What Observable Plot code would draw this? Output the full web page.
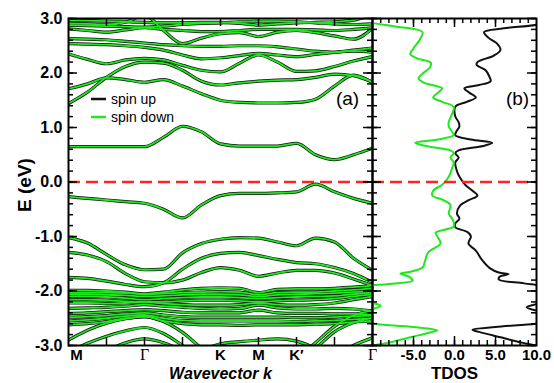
<!DOCTYPE html>
<html>
<head>
<meta charset="utf-8">
<script src="https://cdn.jsdelivr.net/npm/d3@7"></script>
<script src="https://cdn.jsdelivr.net/npm/@observablehq/plot@0.6"></script>
<style>
  html, body { margin: 0; padding: 0; background: #fff; }
  #chart { position: relative; width: 554px; height: 383px; font-family: "Liberation Sans", Arial, sans-serif; }
  #chart > svg { position: absolute; top: 0; }
</style>
</head>
<body>
<div id="chart"></div>
<script>
// ---------------- data ----------------
// k-path positions (in units of segment length) where band energies are sampled
const kGrid = [0, 0.5, 1, 1.5, 2, 2.5, 3, 3.5, 4, 4.5, 5, 5.5, 6, 6.5, 7, 7.5, 8];

// high-symmetry points along the path
const hsLabels = ["M", "Γ", "K", "M", "K′", "Γ"];
const hsPos = [0, 2, 4, 5, 6, 8];

// conduction bands, E (eV) at each kGrid point
const conductionBands = [
  [0.65, 0.65, 0.65, 0.65, 0.65, 0.82, 1.02, 0.92, 0.70, 0.66, 0.66, 0.66, 0.71, 0.50, 0.41, 0.50, 0.62],
  [1.71, 1.80, 1.91, 1.88, 1.83, 1.88, 1.76, 1.62, 1.50, 1.46, 1.45, 1.45, 1.46, 1.52, 1.76, 1.96, 1.83],
  [1.44, 1.65, 1.92, 2.12, 2.20, 2.18, 2.05, 1.85, 1.78, 1.82, 1.85, 1.87, 1.88, 1.92, 1.98, 1.95, 1.83],
  [2.35, 2.25, 2.17, 2.24, 2.27, 2.24, 2.14, 2.05, 2.02, 2.18, 2.33, 2.20, 2.03, 2.04, 2.12, 2.22, 2.30],
  [2.54, 2.53, 2.52, 2.50, 2.47, 2.42, 2.33, 2.26, 2.28, 2.32, 2.36, 2.33, 2.30, 2.34, 2.38, 2.40, 2.38],
  [2.63, 2.62, 2.61, 2.58, 2.55, 2.52, 2.50, 2.49, 2.49, 2.50, 2.50, 2.48, 2.44, 2.40, 2.38, 2.42, 2.46],
  [2.81, 2.78, 2.75, 2.79, 2.83, 2.80, 2.78, 2.76, 2.76, 2.78, 2.80, 2.80, 2.80, 2.79, 2.78, 2.80, 2.83],
  [2.91, 2.90, 2.89, 2.93, 3.06, 2.78, 2.54, 2.64, 2.72, 2.74, 2.67, 2.75, 2.78, 2.74, 2.68, 2.62, 2.82],
  [2.97, 2.96, 2.95, 2.94, 2.93, 2.92, 2.92, 2.93, 2.93, 2.91, 2.88, 2.90, 2.92, 2.93, 2.94, 2.97, 3.06],
  [2.88, 2.87, 2.86, 2.85, 2.84, 2.86, 2.89, 2.91, 2.92, 2.94, 2.95, 2.95, 2.94, 2.92, 2.90, 2.89, 2.90]
];

// valence bands, E (eV) at each kGrid point (null = outside the energy window)
const valenceBands = [
  [-0.27, -0.30, -0.33, -0.36, -0.39, -0.50, -0.66, -0.42, -0.25, -0.21, -0.21, -0.20, -0.18, -0.04, -0.18, -0.30, -0.39],
  [-1.02, -1.12, -1.33, -1.52, -1.61, -1.60, -1.30, -1.13, -1.05, -1.02, -1.03, -1.10, -1.17, -1.03, -1.10, -1.40, -1.62],
  [-1.29, -1.34, -1.46, -1.68, -1.83, -1.85, -1.80, -1.66, -1.57, -1.62, -1.73, -1.67, -1.62, -1.62, -1.67, -1.78, -1.90],
  [-1.75, -1.77, -1.82, -1.88, -1.92, -1.85, -1.60, -1.40, -1.31, -1.29, -1.35, -1.42, -1.48, -1.50, -1.57, -1.68, -1.84],
  [-1.99, -1.99, -2.00, -2.02, -2.05, -2.02, -1.98, -1.95, -1.94, -1.95, -2.03, -1.97, -1.96, -1.96, -1.95, -1.93, -1.90],
  [-2.03, -2.03, -2.03, -2.04, -2.06, -2.05, -2.03, -2.02, -2.01, -2.02, -2.07, -2.03, -2.02, -2.02, -2.00, -1.98, -1.95],
  [-2.06, -2.06, -2.07, -2.08, -2.10, -2.09, -2.07, -2.06, -2.06, -2.07, -2.10, -2.07, -2.06, -2.05, -2.04, -2.02, -2.00],
  [-2.10, -2.10, -2.11, -2.13, -2.16, -2.14, -2.12, -2.11, -2.11, -2.12, -2.14, -2.12, -2.11, -2.10, -2.09, -2.06, -2.03],
  [-2.16, -2.16, -2.17, -2.19, -2.20, -2.20, -2.18, -2.17, -2.17, -2.18, -2.20, -2.18, -2.17, -2.16, -2.14, -2.10, -2.06],
  [-2.22, -2.22, -2.23, -2.22, -2.20, -2.23, -2.25, -2.26, -2.26, -2.25, -2.22, -2.25, -2.26, -2.25, -2.22, -2.16, -2.10],
  [-2.32, -2.31, -2.30, -2.28, -2.25, -2.28, -2.30, -2.32, -2.33, -2.32, -2.26, -2.31, -2.33, -2.33, -2.32, -2.33, -2.37],
  [-2.41, -2.40, -2.38, -2.36, -2.34, -2.36, -2.39, -2.40, -2.40, -2.40, -2.35, -2.40, -2.41, -2.41, -2.42, -2.42, -2.43],
  [-2.48, -2.47, -2.45, -2.42, -2.40, -2.44, -2.47, -2.48, -2.48, -2.48, -2.48, -2.48, -2.49, -2.49, -2.48, -2.46, -2.45],
  [-2.55, -2.53, -2.50, -2.46, -2.44, -2.50, -2.54, -2.55, -2.55, -2.55, -2.55, -2.55, -2.56, -2.55, -2.54, -2.52, -2.50],
  [-2.62, -2.60, -2.56, -2.50, -2.47, -2.55, -2.60, -2.62, -2.62, -2.63, -2.62, -2.62, -2.62, -2.61, -2.60, -2.57, -2.55],
  [-2.90, -2.72, -2.59, -2.51, -2.47, -2.56, -2.76, -3.05, -3.30, null, null, null, null, null, null, null, null],
  [-3.12, -2.96, -2.83, -2.73, -2.67, -2.78, -3.00, -3.25, null, null, null, null, null, null, null, null, null],
  [null, null, -3.10, -2.95, -2.88, -2.95, -3.10, null, null, null, null, null, null, null, null, null, null],
  [null, null, null, null, null, null, -3.30, -3.10, -2.97, -2.93, -2.90, -2.88, -2.92, -3.05, -3.20, null, null],
  [null, null, null, null, null, null, null, null, null, null, null, null, -3.30, -3.05, -2.75, -2.58, -2.49],
  [null, null, null, null, null, null, null, null, null, null, null, null, -3.25, -2.95, -2.65, -2.45, -2.36],
  [null, null, null, null, null, null, null, null, null, null, null, null, null, null, -3.20, -3.00, -2.86]
];

// total density of states, spin up (states/eV) against energy
const dosUpE = [3.0, 2.9, 2.82, 2.75, 2.64, 2.54, 2.42, 2.32, 2.2, 2.15, 2.05, 1.95, 1.85, 1.78, 1.72, 1.64, 1.55, 1.47, 1.38, 1.2,
  1.1, 1.02, 0.92, 0.86, 0.78, 0.72, 0.66, 0.58, 0.53, 0.45, 0.36, 0.25, 0.16, 0.05, -0.05, -0.16, -0.25, -0.33, -0.43, -0.58,
  -0.67, -0.76, -0.83, -0.92, -1.0, -1.13, -1.26, -1.44, -1.58, -1.66, -1.69, -1.74, -1.79, -1.86, -1.92, -2.0, -2.18, -2.24, -2.3, -2.36,
  -2.42, -2.55, -2.6, -2.66, -2.71, -2.75, -2.85, -2.94, -3.0];
const dosUp = [12, 10.5, 6, 3.6, 4.2, 5.2, 5.6, 4.8, 2.8, 2.7, 3.8, 4.2, 4.4, 3.0, 1.2, 1.8, 2.6, 1.5, 0.1, 0.1,
  0.5, 0.6, 0.2, 0.1, 2.0, 4.6, 3.5, 0.5, 0.1, 0.5, 0.1, 0.2, 0.4, 0.8, 1.3, 2.2, 2.8, 1.8, 0.7, 0.3,
  0.6, 0.1, 0.1, 1.6, 2.0, 1.7, 2.6, 3.4, 4.3, 5.4, 6.6, 5.5, 5.4, 8.5, 11, 12, 12, 10, 8.8, 10,
  12, 12, 10, 5, 2.2, 3, 5.6, 8, 10];

// total density of states, spin down (plotted negative)
const dosDownE = [3.0, 2.92, 2.85, 2.75, 2.62, 2.45, 2.35, 2.27, 2.19, 2.1, 2.0, 1.9, 1.82, 1.72, 1.64, 1.55, 1.47, 1.38, 1.25, 1.1,
  1.02, 0.92, 0.86, 0.78, 0.72, 0.66, 0.58, 0.53, 0.45, 0.36, 0.25, 0.16, 0.05, -0.05, -0.16, -0.25, -0.33, -0.42, -0.58, -0.67,
  -0.74, -0.82, -0.93, -1.02, -1.13, -1.29, -1.45, -1.57, -1.65, -1.68, -1.74, -1.81, -1.87, -1.92, -2.0, -2.15, -2.22, -2.27, -2.33, -2.4,
  -2.55, -2.6, -2.66, -2.72, -2.76, -2.85, -2.94, -3.0];
const dosDown = [-12, -10, -7, -3.9, -4.2, -5.0, -5.4, -4.6, -2.9, -3.0, -3.8, -4.4, -3.7, -1.5, -2.0, -2.6, -1.5, -0.1, -0.3, -0.7,
  -0.7, -0.3, -0.1, -2.0, -4.8, -3.5, -0.5, -0.1, -0.5, -0.1, -0.3, -0.5, -0.9, -1.5, -2.6, -2.7, -1.4, -0.5, -0.7, -0.3,
  -0.1, -0.1, -2.3, -2.0, -1.7, -3.2, -3.6, -3.9, -5.5, -6.6, -5.5, -5.1, -8, -11, -12, -12, -10, -9.0, -10, -12,
  -12, -10, -5, -2.1, -3, -5.4, -7.8, -10];

// axis ticks
const eLabels = [-3, -2, -1, 0, 1, 2, 3];
const tdosLabels = [-5, 0, 5, 10];

// ---------------- layout & style ----------------
const width = 554, height = 383;
const marginTop = 18, marginBottom = 38, marginLeft = 68, marginRight = 18;
const splitX = 372;
const innerH = height - marginTop - marginBottom;
const innerA = splitX - marginLeft;
const innerB = width - splitX - marginRight;
const green = "#1fe81f";
const red = "#ff2424";
const sans = "'Liberation Sans', Arial, Helvetica, sans-serif";
const serif = "'Liberation Serif', 'Times New Roman', serif";
const svgStyle = {fontFamily: sans, overflow: "visible", background: "transparent"};
const centered = {textAnchor: "middle", lineAnchor: "middle"};
const tickLabelDy = 9.5;  // tick labels below the frame
const titleDy = 28;       // axis titles below the tick labels

const bandTable = [
  ...conductionBands.flatMap((b, i) => b.map((E, j) => ({band: "c" + i, k: kGrid[j], E}))),
  ...valenceBands.flatMap((b, i) => b.map((E, j) => ({band: "v" + i, k: kGrid[j], E})))
];
const upTable = dosUpE.map((E, i) => ({E, dos: dosUp[i]}));
const downTable = dosDownE.map((E, i) => ({E, dos: dosDown[i]}));

const eMinor = d3.ticks(-3, 3, 30);
const tickW = 1.5;

// inward ticks on the left and right edges of a panel
function energyTicks(inner) {
  return [
    Plot.tickY(eMinor, {y: d => d, insetRight: inner - 5, strokeWidth: tickW}),
    Plot.tickY(eMinor, {y: d => d, insetLeft: inner - 5, strokeWidth: tickW}),
    Plot.tickY(eLabels, {y: d => d, insetRight: inner - 9, strokeWidth: tickW}),
    Plot.tickY(eLabels, {y: d => d, insetLeft: inner - 9, strokeWidth: tickW})
  ];
}
// inward ticks on the top and bottom edges of a panel
function hTicks(values, len) {
  return [
    Plot.tickX(values, {x: d => d, insetBottom: innerH - len, strokeWidth: tickW}),
    Plot.tickX(values, {x: d => d, insetTop: innerH - len, strokeWidth: tickW})
  ];
}
const zeroLine = Plot.ruleY([0], {stroke: red, strokeWidth: 2.5, strokeDasharray: "12,6"});

// ---------------- (a) band structure ----------------
const panelA = Plot.plot({
  width: splitX, height,
  marginTop, marginBottom, marginLeft, marginRight: 0,
  style: svgStyle,
  x: {domain: [0, 8], axis: null},
  y: {domain: [-3, 3]},
  marks: [
    Plot.line(bandTable, {x: "k", y: "E", z: "band", stroke: "#111", strokeWidth: 3.2, curve: "monotone-x", clip: true}),
    Plot.line(bandTable, {x: "k", y: "E", z: "band", stroke: green, strokeWidth: 1.8, curve: "monotone-x", clip: true}),
    zeroLine,
    ...energyTicks(innerA),
    ...hTicks(d3.range(1, 8), 8),
    Plot.frame({stroke: "black", strokeWidth: 2}),
    Plot.axisY(eLabels, {tickSize: 0, tickPadding: 6, tickFormat: d => d.toFixed(1), fontSize: 16, fontWeight: "bold", label: null}),
    Plot.text([0], {x: d => hsPos[d], text: d => hsLabels[d], frameAnchor: "bottom", dy: tickLabelDy, dx: 8, fontSize: 15, fontWeight: "bold", ...centered}),
    Plot.text([2, 3, 4], {x: d => hsPos[d], text: d => hsLabels[d], frameAnchor: "bottom", dy: tickLabelDy, fontSize: 15, fontWeight: "bold", ...centered}),
    Plot.text([1, 5], {x: d => hsPos[d], text: d => hsLabels[d], frameAnchor: "bottom", dy: tickLabelDy, fontSize: 16, fontFamily: serif, ...centered}),
    Plot.text(["Wavevector k"], {frameAnchor: "bottom", dy: titleDy, fontSize: 16, fontWeight: "bold", fontStyle: "italic", ...centered}),
    Plot.text(["E (eV)"], {frameAnchor: "left", rotate: -90, dx: -44, dy: 3, fontSize: 19, fontWeight: "bold", ...centered}),
    Plot.text(["(a)"], {frameAnchor: "top-right", dx: -25, dy: 80, fontSize: 19, ...centered})
  ]
});

// ---------------- (b) total DOS ----------------
const panelB = Plot.plot({
  width: width - splitX, height,
  marginTop, marginBottom, marginLeft: 0, marginRight,
  style: svgStyle,
  x: {domain: [-10, 10], axis: null},
  y: {domain: [-3, 3], axis: null},
  marks: [
    Plot.line(upTable, {x: "dos", y: "E", stroke: "#111", strokeWidth: 2, curve: "catmull-rom", clip: true}),
    Plot.line(downTable, {x: "dos", y: "E", stroke: green, strokeWidth: 2, curve: "catmull-rom", clip: true}),
    zeroLine,
    ...energyTicks(innerB),
    ...hTicks(d3.range(-9, 10), 5),
    ...hTicks([-5, 0, 5], 9),
    Plot.frame({stroke: "black", strokeWidth: 2}),
    Plot.text(tdosLabels, {x: d => d, text: d => d.toFixed(1), frameAnchor: "bottom", dy: tickLabelDy, fontSize: 15, fontWeight: "bold", ...centered}),
    Plot.text(["TDOS"], {frameAnchor: "bottom", dy: titleDy, fontSize: 17, fontWeight: "bold", ...centered}),
    Plot.text(["(b)"], {frameAnchor: "top-right", dx: -19, dy: 80, fontSize: 19, ...centered})
  ]
});

const chart = document.getElementById("chart");
panelA.style.left = "0px";
panelB.style.left = splitX + "px";
chart.append(panelA, panelB);

// spin legend inside panel (a)
const legendItems = [{label: "spin up", color: "#111"}, {label: "spin down", color: green}];
const legend = d3.create("svg")
  .attr("width", 110).attr("height", 40)
  .style("position", "absolute").style("left", "88px").style("top", "88px").style("overflow", "visible");
const row = legend.selectAll("g").data(legendItems).join("g")
  .attr("transform", (d, i) => `translate(0,${11 + i * 18})`);
row.append("line").attr("x1", 3).attr("x2", 18).attr("stroke", d => d.color).attr("stroke-width", 2.5);
row.append("text").attr("x", 23).attr("dy", "0.35em")
  .style("font-family", sans).style("font-size", "14px").text(d => d.label);
chart.append(legend.node());
</script>
</body>
</html>
